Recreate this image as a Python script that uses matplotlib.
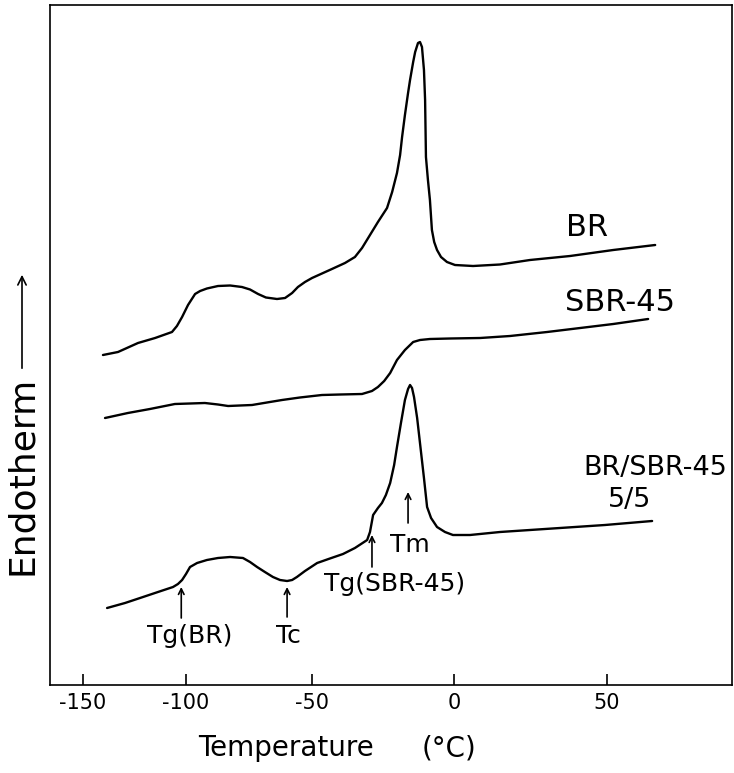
import numpy as np
import matplotlib
matplotlib.use("Agg")
import matplotlib.pyplot as plt

# DSC traces (temperature in degC, signal in arbitrary units)
br_t = [-140.3, -133.0, -123.3, -115.0, -106.8, -104.4, -101.9, -99.2, -96.4, -94.4,
        -91.7, -87.3, -82.5, -77.8, -74.6, -71.4, -68.3, -63.9, -60.7, -57.9,
        -55.6, -52.8, -50.0, -46.5, -43.0, -38.4, -34.9, -32.4, -29.6, -26.8,
        -23.6, -21.8, -20.1, -19.0, -18.3, -17.3, -16.2, -15.5, -14.4, -13.7,
        -12.7, -12.0, -11.3, -10.6, -10.2, -9.9, -9.2, -8.5, -7.8, -7.0,
        -6.0, -4.6, -2.5, 0.3, 6.2, 15.0, 24.8, 37.9, 52.0, 65.7]
br_y = [33.0, 33.3, 34.2, 34.7, 35.3, 35.9, 36.8, 38.0, 39.1, 39.4,
        39.65, 39.9, 39.95, 39.8, 39.55, 39.1, 38.75, 38.6, 38.7, 39.2,
        39.8, 40.3, 40.7, 41.15, 41.6, 42.2, 42.8, 43.7, 45.0, 46.3,
        47.7, 49.3, 51.2, 53.0, 54.8, 57.0, 59.2, 60.5, 62.3, 63.3,
        64.2, 64.3, 63.8, 61.5, 58.5, 52.8, 50.5, 48.5, 45.5, 44.3,
        43.5, 42.8, 42.3, 42.0, 41.9, 42.05, 42.5, 42.9, 43.5, 44.0]

sbr_t = [-139.3, -128.2, -117.5, -105.4, -98.4, -92.5, -87.3, -83.3, -78.6, -73.8,
         -66.7, -61.9, -54.8, -46.5, -40.1, -32.4, -28.9, -26.8, -24.6, -22.5,
         -20.1, -17.3, -14.4, -12.0, -8.5, -1.4, 8.5, 18.3, 30.4, 41.2,
         52.0, 63.4]
sbr_y = [26.7, 27.2, 27.6, 28.1, 28.15, 28.2, 28.05, 27.9, 27.95, 28.0,
         28.3, 28.5, 28.75, 29.0, 29.05, 29.1, 29.4, 29.8, 30.4, 31.2,
         32.5, 33.5, 34.3, 34.5, 34.6, 34.65, 34.7, 34.9, 35.3, 35.7,
         36.1, 36.6]

blend_t = [-138.3, -129.6, -122.3, -113.6, -106.3, -103.9, -101.9, -100.0, -98.4, -95.6,
           -91.7, -87.3, -82.5, -77.4, -74.6, -71.8, -68.7, -65.5, -62.7, -59.9,
           -57.9, -56.0, -52.8, -48.2, -43.7, -39.1, -34.9, -30.6, -29.6, -28.5,
           -26.8, -25.4, -24.0, -22.5, -21.1, -20.1, -18.7, -17.3, -16.2, -15.5,
           -14.8, -14.1, -13.0, -12.0, -10.6, -9.5, -8.1, -6.0, -3.2, -0.4,
           5.2, 15.0, 24.8, 34.6, 49.3, 64.7]
blend_y = [7.7, 8.2, 8.7, 9.3, 9.8, 10.1, 10.5, 11.1, 11.8, 12.2,
           12.5, 12.7, 12.8, 12.7, 12.3, 11.8, 11.3, 10.8, 10.5, 10.4,
           10.5, 10.8, 11.4, 12.2, 12.65, 13.1, 13.7, 14.5, 15.3, 17.0,
           17.7, 18.2, 19.0, 20.2, 22.0, 23.8, 26.2, 28.5, 29.6, 30.0,
           29.7, 28.8, 26.7, 24.2, 20.7, 17.8, 16.7, 15.8, 15.3, 15.0,
           15.0, 15.3, 15.5, 15.7, 16.0, 16.4]

xticks = [-150, -100, -50, 0, 50]
xticklabels = ["-150", "-100", "-50", "0", "50"]

# the printed temperature axis is not linear; tick spacing
axis_t = [-200, -150, -100, -50, 0, 50, 150]
axis_p = [-20, 83, 186, 312, 454, 607, 913]


def fwd(t):
    return np.interp(t, axis_t, axis_p)


def inv(p):
    return np.interp(p, axis_p, axis_t)


fig = plt.figure(figsize=(7.34, 7.73), dpi=100)
ax = fig.add_axes([50 / 734, 88 / 773, 682 / 734, 680 / 773])
ax.set_xscale("function", functions=(fwd, inv))

lw = 1.7
for t, y in [(br_t, br_y), (sbr_t, sbr_y), (blend_t, blend_y)]:
    ax.plot(t, y, color="black", lw=lw, solid_joinstyle="round", solid_capstyle="round")

ax.set_xlim(-166.0, 90.8)
ax.set_ylim(0, 68)
ax.set_xticks(xticks)
ax.set_xticklabels(xticklabels, fontsize=15)
ax.set_yticks([])
ax.tick_params(axis="x", direction="in", length=8, width=1.2, pad=6)
for s in ax.spines.values():
    s.set_linewidth(1.2)

ax.text(43.5, 45.8, "BR", fontsize=22, ha="center", va="center")
ax.text(36.3, 38.3, "SBR-45", fontsize=22, ha="left", va="center")
ax.text(42.2, 21.7, "BR/SBR-45", fontsize=19.5, ha="left", va="center")
ax.text(50.3, 18.5, "5/5", fontsize=19.5, ha="left", va="center")

# marked transitions
arrow = dict(arrowstyle="->", color="black", lw=1.2, shrinkA=0, shrinkB=0)
small = 18
ax.annotate("", xy=(-102.3, 9.8), xytext=(-102.3, 6.7), arrowprops=arrow)
ax.text(-98.4, 4.9, "Tg(BR)", fontsize=small, ha="center", va="center")
ax.annotate("", xy=(-59.9, 9.8), xytext=(-59.9, 6.8), arrowprops=arrow)
ax.text(-59.5, 4.9, "Tc", fontsize=small, ha="center", va="center")
ax.annotate("", xy=(-28.9, 15.0), xytext=(-28.9, 11.8), arrowprops=arrow)
ax.text(-20.8, 10.1, "Tg(SBR-45)", fontsize=small, ha="center", va="center")
ax.annotate("", xy=(-16.2, 19.3), xytext=(-16.2, 16.2), arrowprops=arrow)
ax.text(-15.5, 14.0, "Tm", fontsize=small, ha="center", va="center")

fig.text(286 / 734, 1 - 748 / 773, "Temperature", fontsize=20, ha="center", va="center")
fig.text(449 / 734, 1 - 748 / 773, "(°C)", fontsize=20, ha="center", va="center")
fig.text(22 / 734, 1 - 475 / 773, "Endotherm", fontsize=26, rotation=90,
         ha="center", va="center")
fig.add_artist(matplotlib.patches.FancyArrowPatch(
    (22 / 734, 1 - 371 / 773), (22 / 734, 1 - 272 / 773),
    transform=fig.transFigure, arrowstyle="->", mutation_scale=15,
    color="black", lw=1.2))

fig.savefig("out.png", dpi=100)
